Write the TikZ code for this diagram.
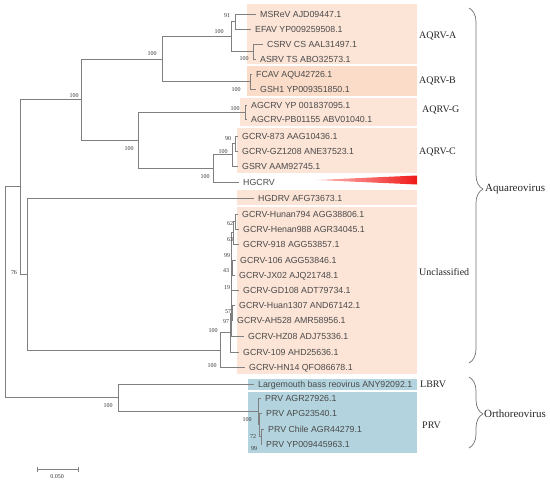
\documentclass[tikz,border=0pt]{standalone}
\usepackage{fontspec}
\setmainfont{Liberation Serif}
\setsansfont{Liberation Sans}
\usetikzlibrary{decorations.pathreplacing,calc}
\definecolor{peach}{HTML}{FCE4D6}
\definecolor{peachB}{HTML}{FADCC8}
\definecolor{bluebox}{HTML}{B3D4DE}
\definecolor{treeline}{HTML}{808080}
\definecolor{leaftext}{HTML}{4A4A4A}
\definecolor{bracecol}{HTML}{707070}
\begin{document}
\begin{tikzpicture}[x=1pt,y=-1pt,
  leaf/.style={anchor=west, inner xsep=4pt, inner ysep=0pt, text height=6.3pt, text depth=0pt, font=\sffamily\fontsize{8.8}{9}\selectfont, text=leaftext},
  boot/.style={inner sep=0pt, font=\fontsize{6}{6.5}\selectfont, text=black!80},
  grp/.style={anchor=west, inner sep=0pt, font=\fontsize{10}{11}\selectfont, text=black!85},
  fam/.style={anchor=west, inner sep=0pt, font=\fontsize{11}{12}\selectfont, text=black!85},
  br/.style={draw=treeline, line width=0.8pt},
  bracestyle/.style={draw=bracecol, line width=0.7pt, decorate, decoration={brace, amplitude=14pt, aspect=#1}}
]
\useasboundingbox (0,0) rectangle (550,483);
% background boxes
\fill[peach] (247,4) rectangle (417,64);
\fill[peachB] (247,66) rectangle (417,96);
\fill[peach] (240,98) rectangle (417,126);
\fill[peach] (237,128) rectangle (417,173);
\fill[peach] (237,190) rectangle (417,205);
\fill[peach] (237,207) rectangle (417,374);
\fill[bluebox] (248,379) rectangle (417,390);
\fill[bluebox] (248,392) rectangle (417,453);
% red wedge
\shade[left color=red!25!white, right color={rgb,255:red,240;green,25;blue,25}] (316,180) -- (417,175.5) -- (417,184.5) -- cycle;

% leaves
\node[leaf] (l1) at (256,14) {MSReV AJD09447.1};
\node[leaf] (l2) at (251,29) {EFAV YP009259508.1};
\node[leaf] (l3) at (263,44) {CSRV CS AAL31497.1};
\node[leaf] (l4) at (256,59) {ASRV TS ABO32573.1};
\node[leaf] (l5) at (252,74) {FCAV AQU42726.1};
\node[leaf] (l6) at (256,89) {GSH1 YP009351850.1};
\node[leaf] (l7) at (247,105) {AGCRV YP 001837095.1};
\node[leaf] (l8) at (247,119) {AGCRV-PB01155 ABV01040.1};
\node[leaf] (l9) at (238,136) {GCRV-873 AAG10436.1};
\node[leaf] (l10) at (238,151) {GCRV-GZ1208 ANE37523.1};
\node[leaf] (l11) at (238,166) {GSRV AAM92745.1};
\node[leaf] (l12) at (239,182) {HGCRV};
\node[leaf] (l13) at (254,198) {HGDRV AFG73673.1};
\node[leaf] (l14) at (238,214) {GCRV-Hunan794 AGG38806.1};
\node[leaf] (l15) at (239,229) {GCRV-Henan988 AGR34045.1};
\node[leaf] (l16) at (239,244) {GCRV-918 AGG53857.1};
\node[leaf] (l17) at (236,260) {GCRV-106 AGG53846.1};
\node[leaf] (l18) at (235,275) {GCRV-JX02 AJQ21748.1};
\node[leaf] (l19) at (239,290) {GCRV-GD108 ADT79734.1};
\node[leaf] (l20) at (235,305) {GCRV-Huan1307 AND67142.1};
\node[leaf] (l21) at (233,320) {GCRV-AH528 AMR58956.1};
\node[leaf] (l22) at (244,336) {GCRV-HZ08 ADJ75336.1};
\node[leaf] (l23) at (239,352) {GCRV-109 AHD25636.1};
\node[leaf] (l24) at (245,367) {GCRV-HN14 QFO86678.1};
\node[leaf] (l25) at (254,384) {Largemouth bass reovirus ANY92092.1};
\node[leaf] (l26) at (261,398) {PRV AGR27926.1};
\node[leaf] (l27) at (262,413) {PRV APG23540.1};
\node[leaf] (l28) at (264,429) {PRV Chile AGR44279.1};
\node[leaf] (l29) at (262,444) {PRV YP009445963.1};

% internal nodes
\coordinate (n5) at (235,21.5);
\coordinate (n6) at (253,51.5);
\coordinate (n4) at (231,36.5);
\coordinate (nB) at (250,81.5);
\coordinate (n3) at (162,59);
\coordinate (nG) at (245,112);
\coordinate (n10) at (235,143.5);
\coordinate (n9) at (232,154.75);
\coordinate (n8) at (213,168.4);
\coordinate (n7) at (138,140.2);
\coordinate (n2) at (81,99.6);
\coordinate (u1) at (235,221.5);
\coordinate (u2) at (233,232.75);
\coordinate (u3) at (232,267.5);
\coordinate (u4) at (231,250.1);
\coordinate (u5) at (231,270);
\coordinate (u6) at (232,312.5);
\coordinate (u7) at (231,291.3);
\coordinate (u8) at (231,313.6);
\coordinate (u9) at (230,332.8);
\coordinate (u10) at (220,349.9);
\coordinate (n11) at (27,274);
\coordinate (n1) at (20,186.8);
\coordinate (p3) at (261,436.5);
\coordinate (p2) at (259.5,424.75);
\coordinate (p1) at (258,411.4);
\coordinate (nL) at (118,397.7);
\coordinate (root) at (5,292.2);

% branches
\draw[br] (n5) |- (l1.west); \draw[br] (n5) |- (l2.west);
\draw[br] (n6) |- (l3.west); \draw[br] (n6) |- (l4.west);
\draw[br] (n4) |- (n5); \draw[br] (n4) |- (n6);
\draw[br] (nB) |- (l5.west); \draw[br] (nB) |- (l6.west);
\draw[br] (n3) |- (n4); \draw[br] (n3) |- (nB);
\draw[br] (nG) |- (l7.west); \draw[br] (nG) |- (l8.west);
\draw[br] (n10) |- (l9.west); \draw[br] (n10) |- (l10.west);
\draw[br] (n9) |- (n10); \draw[br] (n9) |- (l11.west);
\draw[br] (n8) |- (n9); \draw[br] (n8) |- (l12.west);
\draw[br] (n7) |- (nG); \draw[br] (n7) |- (n8);
\draw[br] (n2) |- (n3); \draw[br] (n2) |- (n7);
\draw[br] (u1) |- (l14.west); \draw[br] (u1) |- (l15.west);
\draw[br] (u2) |- (u1); \draw[br] (u2) |- (l16.west);
\draw[br] (u3) |- (l17.west); \draw[br] (u3) |- (l18.west);
\draw[br] (u4) |- (u2); \draw[br] (u4) |- (u3);
\draw[br] (u5) |- (u4); \draw[br] (u5) |- (l19.west);
\draw[br] (u6) |- (l20.west); \draw[br] (u6) |- (l21.west);
\draw[br] (u7) |- (u5); \draw[br] (u7) |- (u6);
\draw[br] (u8) |- (u7); \draw[br] (u8) |- (l22.west);
\draw[br] (u9) |- (u8); \draw[br] (u9) |- (l23.west);
\draw[br] (u10) |- (u9); \draw[br] (u10) |- (l24.west);
\draw[br] (n11) |- (l13.west); \draw[br] (n11) |- (u10);
\draw[br] (n1) |- (n2); \draw[br] (n1) |- (n11);
\draw[br] (p3) |- (l28.west); \draw[br] (p3) |- (l29.west);
\draw[br] (p2) |- (l27.west); \draw[br] (p2) |- (p3);
\draw[br] (p1) |- (l26.west); \draw[br] (p1) |- (p2);
\draw[br] (nL) |- (l25.west); \draw[br] (nL) |- (p1);
\draw[br] (root) |- (n1); \draw[br] (root) |- (nL);

% bootstrap values
\node[boot] (b1) at (227,16) {91};
\node[boot] (b2) at (219,32) {100};
\node[boot] (b3) at (244,59) {100};
\node[boot] (b4) at (152,54) {100};
\node[boot] (b5) at (74,96) {100};
\node[boot] (b6) at (236,90) {100};
\node[boot] (b7) at (235,109) {100};
\node[boot] (b8) at (129,149) {100};
\node[boot] (b9) at (228,139) {90};
\node[boot] (b10) at (223,152) {100};
\node[boot] (b11) at (205,177) {100};
\node[boot] (b12) at (230,224) {62};
\node[boot] (b13) at (230,240) {63};
\node[boot] (b14) at (227,256) {99};
\node[boot] (b15) at (226,271) {43};
\node[boot] (b16) at (227,288) {19};
\node[boot] (b17) at (228,312) {57};
\node[boot] (b18) at (226,322) {97};
\node[boot] (b19) at (213,331) {100};
\node[boot] (b20) at (212,366) {100};
\node[boot] (b21) at (14,273) {76};
\node[boot] (b22) at (108,406) {100};
\node[boot] (b23) at (247,420) {100};
\node[boot] (b24) at (253,437) {72};
\node[boot] (b25) at (254,449) {99};

% group labels
\node[grp] (gA) at (419,36) {AQRV-A};
\node[grp] (gB) at (419,81) {AQRV-B};
\node[grp] (gG) at (422,110) {AQRV-G};
\node[grp] (gC) at (419,152) {AQRV-C};
\node[grp] (gU) at (419,272) {Unclassified};
\node[grp] (gL) at (420,384) {LBRV};
\node[grp] (gP) at (422,425) {PRV};

% braces
\coordinate (ba1) at (469,8);
\coordinate (ba2) at (469,363);
\draw[bracestyle=0.51] (ba1) -- (ba2);
\node[fam] (aq) at (485,189) {Aquareovirus};
\coordinate (bo1) at (469,377);
\coordinate (bo2) at (469,448);
\draw[bracestyle=0.52] (bo1) -- (bo2);
\node[fam] (or) at (484,414) {Orthoreovirus};

% scale bar
\coordinate (sb1) at (37,469);
\coordinate (sb2) at (78,469);
\draw[br, line width=0.7pt] (sb1) -- (sb2);
\draw[br, line width=0.7pt] ($(sb1)+(0,-2.5)$) -- ($(sb1)+(0,2.5)$);
\draw[br, line width=0.7pt] ($(sb2)+(0,-2.5)$) -- ($(sb2)+(0,2.5)$);
\node[boot] (sbl) at (57,477) {0.050};
\end{tikzpicture}
\end{document}
